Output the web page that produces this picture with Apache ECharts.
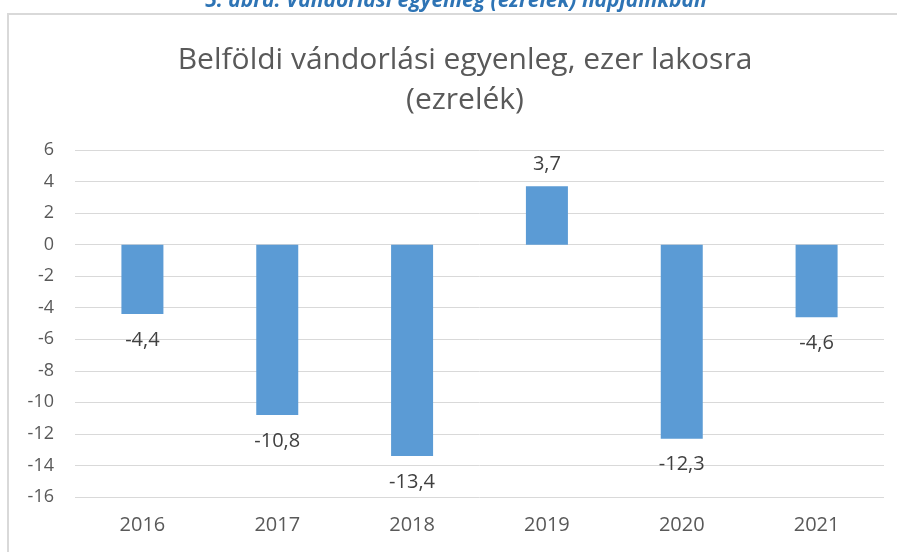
<!DOCTYPE html>
<html>
<head>
<meta charset="utf-8">
<script src="https://cdn.jsdelivr.net/npm/echarts@6/dist/echarts.min.js"></script>
<style>
html, body { margin: 0; padding: 0; background: #fff; }
#chart { width: 897px; height: 552px; }
</style>
</head>
<body>
<div id="chart"></div>
<script>
// Internal migration balance per thousand inhabitants
const years = ['2016', '2017', '2018', '2019', '2020', '2021'];
const balance = [-4.4, -10.8, -13.4, 3.7, -12.3, -4.6];

const chart = echarts.init(document.getElementById('chart'), null, { renderer: 'canvas' });

const fmt = v => String(v).replace('.', ',');

chart.setOption({
  animation: false,
  backgroundColor: '#ffffff',
  graphic: [
    {
      type: 'rect',
      shape: { x: 8, y: 14, width: 900, height: 560 },
      style: { fill: 'none', stroke: '#d9d9d9', lineWidth: 2 },
      silent: true
    },
    {
      type: 'text',
      x: 456,
      y: 12,
      style: {
        text: '5. ábra: Vándorlási egyenleg (ezrelék) napjainkban',
        fill: '#2e74b5',
        font: 'italic bold 21px "Open Sans"',
        align: 'center',
        verticalAlign: 'bottom'
      }
    }
  ],
  title: {
    text: 'Belföldi vándorlási egyenleg, ezer lakosra\n(ezrelék)',
    left: 460,
    textAlign: 'center',
    top: 35,
    textStyle: {
      color: '#595959',
      fontFamily: 'Open Sans',
      fontWeight: 'normal',
      fontSize: 30,
      lineHeight: 40
    }
  },
  grid: { left: 75, right: 13, top: 150, bottom: 55, containLabel: false },
  xAxis: {
    type: 'category',
    data: years,
    axisLine: { show: false },
    axisTick: { show: false },
    axisLabel: { color: '#595959', fontSize: 20, fontFamily: 'Open Sans', margin: 18 }
  },
  yAxis: {
    type: 'value',
    min: -16,
    max: 6,
    interval: 2,
    axisLine: { show: false },
    axisTick: { show: false },
    axisLabel: { color: '#595959', fontSize: 18, fontFamily: 'Open Sans', margin: 21 },
    splitLine: { lineStyle: { color: '#d9d9d9', width: 1 } }
  },
  series: [{
    type: 'bar',
    data: balance.map(v => ({
      value: v,
      label: v < 0 ? { position: 'bottom', distance: 16 } : { position: 'top', distance: 12 }
    })),
    barWidth: 42,
    itemStyle: { color: '#5b9bd5' },
    label: {
      show: true,
      color: '#404040',
      fontSize: 20,
      fontFamily: 'Open Sans',
      formatter: p => fmt(p.value)
    }
  }]
});
</script>
</body>
</html>
